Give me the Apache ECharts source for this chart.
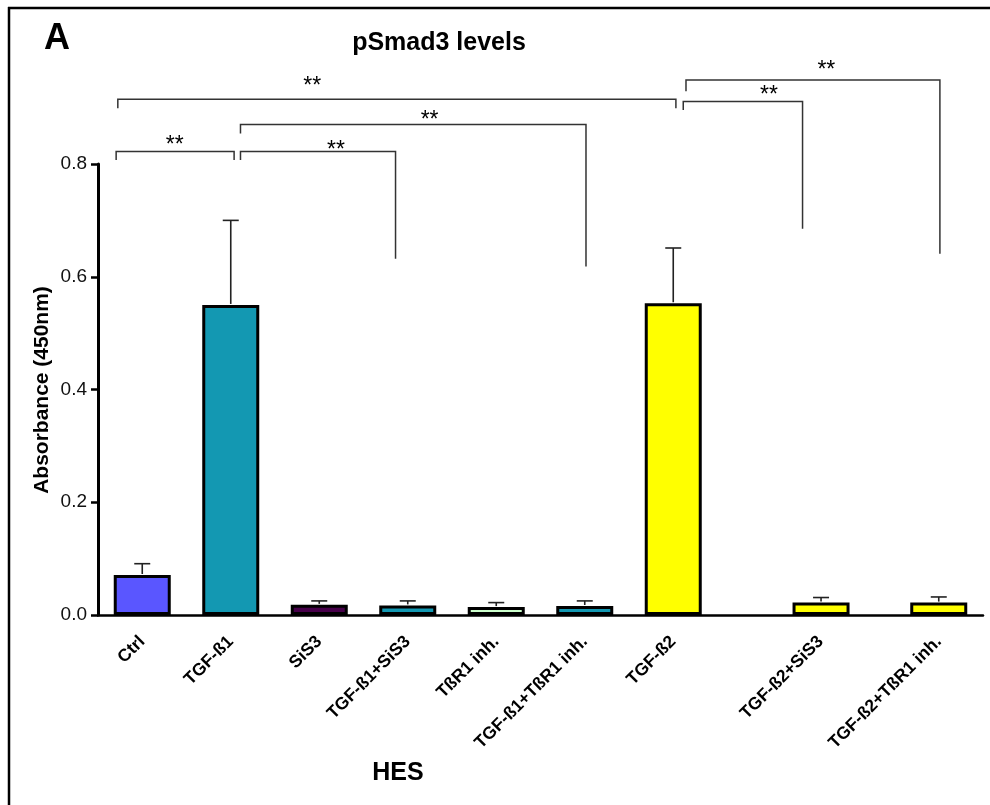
<!DOCTYPE html>
<html>
<head>
<meta charset="utf-8">
<script src="https://cdn.jsdelivr.net/npm/echarts@6/dist/echarts.min.js"></script>
<style>
  html, body { margin: 0; padding: 0; background: #fff; }
  #chart { width: 990px; height: 805px; }
</style>
</head>
<body>
<div id="chart"></div>
<script>
// ---- data ----
const categories = ['Ctrl', 'TGF-ß1', 'SiS3', 'TGF-ß1+SiS3', 'TßR1 inh.', 'TGF-ß1+TßR1 inh.', 'TGF-ß2', 'TGF-ß2+SiS3', 'TGF-ß2+TßR1 inh.'];
// group positions along the x axis (in group units; last groups are spaced wider in the original)
const groupPos = [0, 1, 2, 3, 4, 5, 6, 7.67, 9];
const means = [0.071, 0.550, 0.018, 0.017, 0.014, 0.016, 0.553, 0.022, 0.022];
const sdUp = [0.020, 0.150, 0.007, 0.008, 0.008, 0.009, 0.098, 0.009, 0.010];
const barColors = ['#5a56ff', '#1398b2', '#47004a', '#1398b2', '#ccffcc', '#1398b2', '#ffff00', '#ffff00', '#ffff00'];
// significance brackets: [xLeft, xRight, yTop, yLeftEnd, yRightEnd]
const brackets = [
  [-0.295, 1.038, 0.822, 0.807, 0.807],
  [1.110, 2.862, 0.822, 0.807, 0.632],
  [1.110, 5.014, 0.870, 0.854, 0.618],
  [-0.276, 6.030, 0.915, 0.899, 0.899],
  [6.113, 7.461, 0.911, 0.896, 0.685],
  [6.144, 9.013, 0.949, 0.929, 0.641]
];
// significance marks: [x, y, text]
const stars = [
  [0.366, 0.843, '**'],
  [2.190, 0.834, '**'],
  [3.247, 0.887, '**'],
  [1.921, 0.947, '**'],
  [7.081, 0.931, '**'],
  [7.730, 0.977, '**']
];
const yMin = 0, yMax = 0.8, yStep = 0.2;
const titleText = 'pSmad3 levels';
const panelLabel = 'A';
const yTitle = 'Absorbance (450nm)';
const xTitle = 'HES';

// ---- build ----
const SLOTS_PER_GROUP = 3;
const xMin = -0.5, xMax = 9.5;
const nSlots = Math.round((xMax - xMin) * SLOTS_PER_GROUP);
const slotOf = p => Math.round((p - xMin) * SLOTS_PER_GROUP - 0.5);
const slotLabels = new Array(nSlots).fill('');
const shownSlots = new Set();
categories.forEach((c, i) => { const s = slotOf(groupPos[i]); slotLabels[s] = c; shownSlots.add(s); });

const FONT = '"Liberation Sans", Arial, Helvetica, sans-serif';

const barData = categories.map((c, i) => ({
  value: [groupPos[i], means[i]],
  itemStyle: { color: barColors[i] }
}));
const errData = categories.map((c, i) => [groupPos[i], means[i], sdUp[i]]);

const chart = echarts.init(document.getElementById('chart'), null, { renderer: 'canvas' });
chart.setOption({
  animation: false,
  backgroundColor: '#ffffff',
  textStyle: { fontFamily: FONT },
  grid: { left: 98, right: 7, top: 164, bottom: 190, containLabel: false },
  xAxis: [
    {
      type: 'category',
      data: slotLabels,
      axisLine: { lineStyle: { color: '#000', width: 2.5 } },
      axisTick: {
        alignWithLabel: true, length: 7, inside: false,
        interval: (idx) => shownSlots.has(idx),
        lineStyle: { color: '#000', width: 2.5 }
      },
      axisLabel: {
        interval: (idx) => shownSlots.has(idx),
        rotate: 45, margin: 24,
        padding: [18, 0, 0, 0],
        fontSize: 17.5, fontWeight: 'bold', color: '#000', fontFamily: FONT
      },
      splitLine: { show: false }
    },
    {
      type: 'value', show: false, min: xMin, max: xMax
    }
  ],
  yAxis: {
    type: 'value', min: yMin, max: yMax, interval: yStep,
    axisLine: { show: true, onZero: false, lineStyle: { color: '#000', width: 3 } },
    axisTick: { show: true, length: 7, lineStyle: { color: '#000', width: 2.5 } },
    axisLabel: { fontSize: 19, color: '#111', margin: 11, fontFamily: FONT, formatter: v => v.toFixed(1) },
    splitLine: { show: false }
  },
  graphic: [
    { type: 'line', shape: { x1: 8, y1: 8, x2: 990, y2: 8 }, style: { stroke: '#000', lineWidth: 2.5 } },
    { type: 'line', shape: { x1: 9, y1: 7, x2: 9, y2: 805 }, style: { stroke: '#000', lineWidth: 2.5 } },
    { type: 'text', x: 44, y: 39, style: { text: panelLabel, font: 'bold 36px ' + FONT, fill: '#000', textAlign: 'left', textVerticalAlign: 'middle' } },
    { type: 'text', x: 439, y: 43, style: { text: titleText, font: 'bold 25px ' + FONT, fill: '#000', textAlign: 'center', textVerticalAlign: 'middle' } },
    { type: 'text', x: 42, y: 390, rotation: Math.PI / 2, style: { text: yTitle, font: 'bold 21px ' + FONT, fill: '#000', textAlign: 'center', textVerticalAlign: 'middle' } },
    { type: 'text', x: 398, y: 773, style: { text: xTitle, font: 'bold 25px ' + FONT, fill: '#000', textAlign: 'center', textVerticalAlign: 'middle' } }
  ],
  series: [
    {
      type: 'bar',
      xAxisIndex: 1,
      data: barData,
      barWidth: 57,
      itemStyle: { borderColor: '#000', borderWidth: 3 },
      z: 2
    },
    {
      type: 'custom',
      xAxisIndex: 1,
      data: errData,
      z: 3,
      renderItem: (params, api) => {
        const x = api.value(0), m = api.value(1), e = api.value(2);
        const b = api.coord([x, m]);
        const t = api.coord([x, m + e]);
        const cap = 8;
        const st = { stroke: '#222', lineWidth: 1.6 };
        return {
          type: 'group',
          children: [
            { type: 'line', shape: { x1: b[0], y1: b[1] - 1, x2: t[0], y2: t[1] }, style: st },
            { type: 'line', shape: { x1: t[0] - cap, y1: t[1], x2: t[0] + cap, y2: t[1] }, style: st }
          ]
        };
      }
    },
    {
      type: 'custom',
      xAxisIndex: 1,
      clip: false,
      data: brackets,
      z: 4,
      renderItem: (params, api) => {
        const x1 = api.value(0), x2 = api.value(1), yt = api.value(2), yl = api.value(3), yr = api.value(4);
        const pts = [api.coord([x1, yl]), api.coord([x1, yt]), api.coord([x2, yt]), api.coord([x2, yr])];
        return { type: 'polyline', shape: { points: pts }, style: { stroke: '#333', lineWidth: 1.5, fill: null } };
      }
    },
    {
      type: 'custom',
      xAxisIndex: 1,
      clip: false,
      data: stars,
      z: 5,
      renderItem: (params, api) => {
        const p = api.coord([api.value(0), api.value(1)]);
        return {
          type: 'text',
          x: p[0], y: p[1] + 6,
          style: { text: stars[params.dataIndex][2], font: '23px ' + FONT, fill: '#000', textAlign: 'center', textVerticalAlign: 'middle' }
        };
      }
    }
  ]
});
</script>
</body>
</html>
